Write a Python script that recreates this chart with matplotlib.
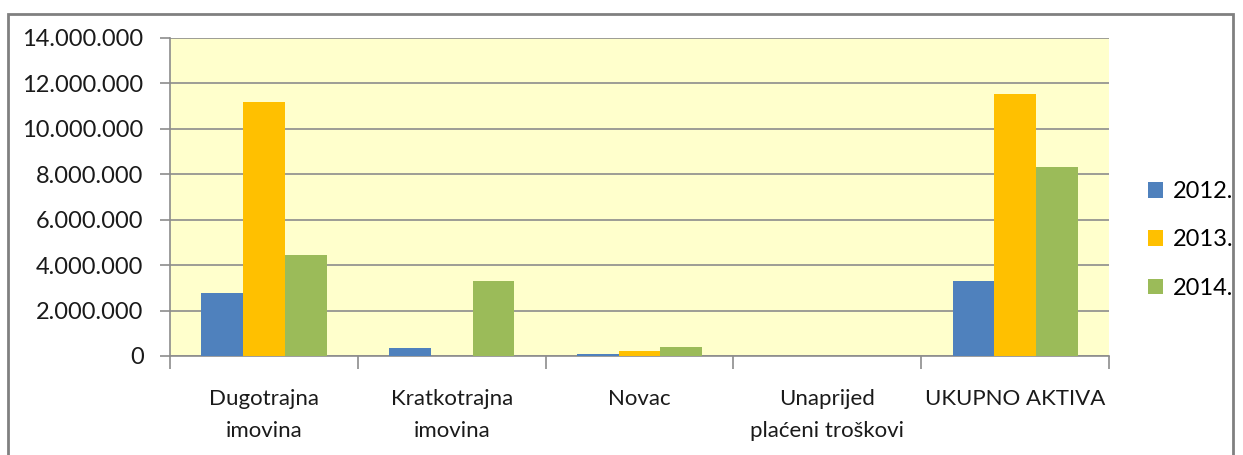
import numpy as np
import matplotlib
matplotlib.use("Agg")
from matplotlib import pyplot as plt
from matplotlib.patches import Rectangle

categories = ["Dugotrajna\nimovina", "Kratkotrajna\nimovina", "Novac",
              "Unaprijed\nplaćeni troškovi", "UKUPNO AKTIVA"]
years = ["2012.", "2013.", "2014."]
v2012 = [2780000, 350000, 70000, 0, 3310000]
v2013 = [11200000, 0, 230000, 0, 11540000]
v2014 = [4430000, 3310000, 410000, 0, 8300000]
yticks = [0, 2000000, 4000000, 6000000, 8000000, 10000000, 12000000, 14000000]

colors = ["#4F81BD", "#FFC000", "#9BBB59"]

plt.rcParams['font.family'] = ['Lato', 'DejaVu Sans']

fig = plt.figure(figsize=(12.43, 4.55), dpi=100)
ax = fig.add_axes([170/1243, 1 - 356/455, (1109 - 170)/1243, (356 - 38)/455])
ax.set_facecolor("#FFFFCC")

x = np.arange(len(categories))
w = 1 / 4.5
for i, (vals, c, lab) in enumerate(zip([v2012, v2013, v2014], colors, years)):
    ax.bar(x + (i - 1) * w, vals, width=w, color=c, label=lab, zorder=3)

ax.set_xlim(-0.5, len(categories) - 0.5)
ax.set_ylim(0, 14000000)
ax.set_yticks(yticks)
ax.set_yticklabels(["{:,}".format(v).replace(",", ".") for v in yticks], fontsize=17, color="#1a1a1a")
ax.yaxis.grid(True, color="#8C8C8C", linewidth=1.2, zorder=1)

ax.set_xticks(x)
ax.set_xticklabels(categories, fontsize=16, color="#1a1a1a", linespacing=1.75)
ax.tick_params(axis="x", which="major", length=0, pad=24)
ax.set_xticks(np.arange(-0.5, len(categories)), minor=True)
ax.tick_params(axis="x", which="minor", length=9, color="#8C8C8C", width=1.2)
ax.tick_params(axis="y", length=7, color="#8C8C8C", width=1.2, pad=12)

for s in ["top", "right"]:
    ax.spines[s].set_visible(False)
for s in ["left", "bottom"]:
    ax.spines[s].set_color("#8C8C8C")
    ax.spines[s].set_linewidth(1.2)

fig.legend(loc="center left", bbox_to_anchor=(1148/1243, 1 - 240/455), frameon=False,
           fontsize=17, handlelength=0.64, handleheight=0.64, handletextpad=0.4,
           labelspacing=1.15, borderpad=0, borderaxespad=0)

fig.patches.append(Rectangle((8/1243, -0.1), (1233 - 8)/1243, 1.1 - 14/455,
                             transform=fig.transFigure, fill=False,
                             edgecolor="#808080", linewidth=2))

fig.savefig("out.png", dpi=100)
